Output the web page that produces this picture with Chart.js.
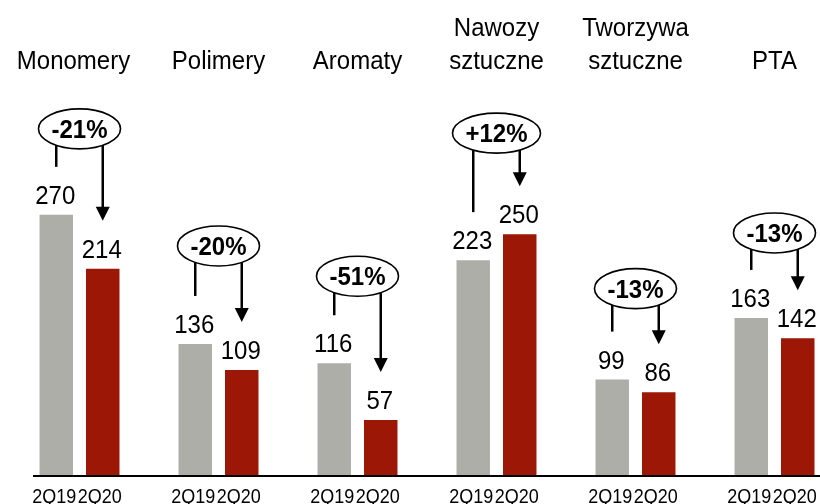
<!DOCTYPE html>
<html lang="pl">
<head>
    <meta charset="UTF-8">
    <title>Monomery / Polimery 2Q19 vs 2Q20</title>
    <script src="https://cdn.jsdelivr.net/npm/chart.js"></script>
    <style>
        html, body { margin: 0; padding: 0; background: #fff; overflow: hidden; }
        .wrap { width: 850px; height: 504px; }
    </style>
</head>
<body>
    <div class="wrap">
        <canvas id="salesChart" width="850" height="504"></canvas>
    </div>

    <script>
        // data
        const categories = [['Monomery'], ['Polimery'], ['Aromaty'], ['Nawozy', 'sztuczne'], ['Tworzywa', 'sztuczne'], ['PTA']];
        const periods = ['2Q19', '2Q20'];
        const values2Q19 = [270, 136, 116, 223, 99, 163];
        const values2Q20 = [214, 109, 57, 250, 86, 142];
        const changes = ['-21%', '-20%', '-51%', '+12%', '-13%', '-13%'];

        // how far (px) each change bubble sits above the taller bar
        const bubbleLift = [86, 98, 87, 101, 91, 85];

        const FONT = '"Liberation Sans", Arial, sans-serif';

        // the original uses a tall, narrow face: stretch text a little vertically
        function tallText(ctx, txt, x, y, k) {
            ctx.save();
            ctx.translate(x, y);
            ctx.scale(1, k || 1.1);
            ctx.fillText(txt, 0, 0);
            ctx.restore();
        }

        function arrowDown(ctx, x, y1, y2) {
            ctx.beginPath();
            ctx.moveTo(x, y1);
            ctx.lineTo(x, y2 - 12);
            ctx.stroke();
            ctx.beginPath();
            ctx.moveTo(x - 7, y2 - 14);
            ctx.lineTo(x + 7, y2 - 14);
            ctx.lineTo(x, y2);
            ctx.closePath();
            ctx.fill();
        }

        const annotations = {
            id: 'annotations',
            afterDatasetsDraw(chart) {
                const ctx = chart.ctx;
                const area = chart.chartArea;
                const m0 = chart.getDatasetMeta(0).data;
                const m1 = chart.getDatasetMeta(1).data;
                ctx.save();
                ctx.fillStyle = '#000';
                ctx.strokeStyle = '#000';

                // axis line
                ctx.fillRect(33, area.bottom, chart.width - 33, 2);

                // value labels
                ctx.font = '24px ' + FONT;
                ctx.textAlign = 'center';
                ctx.textBaseline = 'alphabetic';
                [values2Q19, values2Q20].forEach((vals, d) => {
                    const bars = d === 0 ? m0 : m1;
                    vals.forEach((v, i) => tallText(ctx, String(v), bars[i].x - 1, bars[i].y - 11));
                });

                // period labels under the bars
                ctx.font = '18px ' + FONT;
                categories.forEach((c, i) => {
                    tallText(ctx, periods[0], m0[i].x - 2, 503);
                    tallText(ctx, periods[1], m1[i].x - 3, 503);
                });

                // category names at the top
                ctx.font = '24px ' + FONT;
                categories.forEach((lines, i) => {
                    let cx = (m0[i].x + m1[i].x) / 2;
                    if (i === 0) cx -= 6;
                    lines.forEach((l, k) => {
                        tallText(ctx, l, cx, 69 - (lines.length - 1 - k) * 33);
                    });
                });

                // change bubbles with arrows
                changes.forEach((txt, i) => {
                    const g = m0[i], r = m1[i];
                    const cx = (g.x + r.x) / 2;
                    const cy = Math.min(g.y, r.y) - bubbleLift[i];
                    ctx.font = 'bold 24px ' + FONT;
                    const tw = ctx.measureText(txt).width;
                    const rx = tw / 2 + 13, ry = 20;

                    ctx.lineWidth = 1.6;
                    ctx.beginPath();
                    ctx.ellipse(cx, cy, rx, ry, 0, 0, Math.PI * 2);
                    ctx.stroke();
                    tallText(ctx, txt, cx, cy + 9);

                    const edge = x => cy + ry * Math.sqrt(Math.max(0, 1 - Math.pow((x - cx) / rx, 2)));
                    ctx.lineWidth = 2.5;
                    ctx.beginPath();
                    ctx.moveTo(g.x, edge(g.x));
                    ctx.lineTo(g.x, g.y - 48);
                    ctx.stroke();
                    arrowDown(ctx, r.x, edge(r.x), r.y - 48);
                });

                ctx.restore();
            }
        };

        new Chart(document.getElementById('salesChart').getContext('2d'), {
            type: 'bar',
            data: {
                labels: categories,
                datasets: [
                    { label: periods[0], data: values2Q19, backgroundColor: '#AEAEA9', borderWidth: 0 },
                    { label: periods[1], data: values2Q20, backgroundColor: '#9C1705', borderWidth: 0 }
                ]
            },
            options: {
                responsive: false,
                animation: false,
                layout: { padding: { left: 10, right: 6, top: 0, bottom: 29 } },
                datasets: { bar: { categoryPercentage: 0.669, barPercentage: 0.72 } },
                scales: {
                    x: { display: false },
                    y: { display: false, min: 0, max: 493 }
                },
                plugins: { legend: { display: false }, tooltip: { enabled: false } }
            },
            plugins: [annotations]
        });
    </script>
</body>
</html>
